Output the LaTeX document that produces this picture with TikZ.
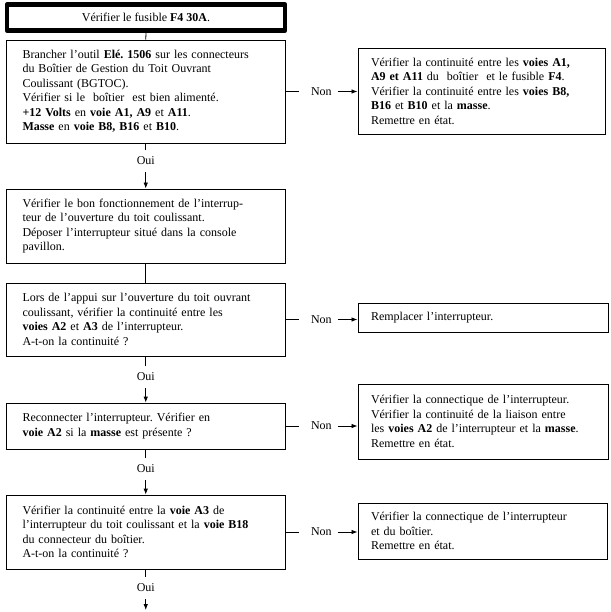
\documentclass[tikz,border=0pt]{standalone}
\usepackage{fontspec}
\setmainfont{Liberation Serif}
\usetikzlibrary{arrows.meta}
\frenchspacing
\begin{document}
\begin{tikzpicture}[x=1pt,y=-1pt,
  font=\fontsize{12}{14.5}\selectfont,
  mbox/.style={draw, line width=0.8pt, rectangle, inner xsep=16pt, inner ysep=0pt,
    minimum width=278.5pt, text width=246.5pt, align=left},
  rbox/.style={draw, line width=0.9pt, rectangle, inner xsep=13pt, inner ysep=0pt, align=left},
  lab/.style={inner sep=0pt},
  arr/.style={-{Latex[length=6pt,width=4.5pt]}, line width=0.8pt},
  conn/.style={line width=0.8pt}]
\useasboundingbox (0,0) rectangle (610,612);

% main column
\node[draw, line width=4.5pt, line join=round, minimum width=278pt, minimum height=26pt, inner sep=0pt] (t) at (146,17.5)
  {Vérifier le fusible \textbf{F4 30A}.};
\node[mbox, minimum height=103pt] (b1) at (145.75,91.5)
  {Brancher l’outil \textbf{Elé. 1506} sur les connecteurs\\
   du Boîtier de Gestion du Toit Ouvrant\\
   Coulissant (BGTOC).\\
   Vérifier si le\ \ boîtier\ \ est bien alimenté.\\
   \textbf{+12 Volts} en \textbf{voie A1, A9} et \textbf{A11}.\\
   \textbf{Masse} en \textbf{voie B8, B16} et \textbf{B10}.};
\node[mbox, minimum height=74pt] (b2) at (145.75,226)
  {Vérifier le bon fonctionnement de l’interrup-\\
   teur de l’ouverture du toit coulissant.\\
   Déposer l’interrupteur situé dans la console\\
   pavillon.};
\node[mbox, minimum height=73pt] (b3) at (145.75,319.5)
  {Lors de l’appui sur l’ouverture du toit ouvrant\\
   coulissant, vérifier la continuité entre les\\
   \textbf{voies A2} et \textbf{A3} de l’interrupteur.\\
   A-t-on la continuité ?};
\node[mbox, minimum height=46pt] (b4) at (145.75,426)
  {Reconnecter l’interrupteur. Vérifier en\\
   \textbf{voie A2} si la \textbf{masse} est présente ?};
\node[mbox, minimum height=74pt] (b5) at (145.75,532)
  {Vérifier la continuité entre la \textbf{voie A3} de\\
   l’interrupteur du toit coulissant et la \textbf{voie B18}\\
   du connecteur du boîtier.\\
   A-t-on la continuité ?};
\coordinate (end) at (145.75,610);

% right column
\node[rbox, minimum width=247pt, minimum height=86pt, text width=221pt] (r1) at (481.5,91)
  {Vérifier la continuité entre les \textbf{voies A1,}\\
   \textbf{A9 et A11} du\ \ boîtier\ \ et le fusible \textbf{F4}.\\
   Vérifier la continuité entre les \textbf{voies B8,}\\
   \textbf{B16} et \textbf{B10} et la \textbf{masse}.\\
   Remettre en état.};
\node[rbox, minimum width=250pt, minimum height=29pt, text width=224pt] (r2) at (483,317.5)
  {Remplacer l’interrupteur.};
\node[rbox, minimum width=250pt, minimum height=75pt, text width=224pt] (r3) at (483,421.5)
  {Vérifier la connectique de l’interrupteur.\\
   Vérifier la continuité de la liaison entre\\
   les \textbf{voies A2} de l’interrupteur et la \textbf{masse}.\\
   Remettre en état.};
\node[rbox, minimum width=249pt, minimum height=56pt, text width=223pt] (r4) at (482.5,531)
  {Vérifier la connectique de l’interrupteur\\
   et du boîtier.\\
   Remettre en état.};

% Oui labels
\node[lab, inner ysep=7pt] (o1) at (145.75,161) {Oui};
\node[lab, inner ysep=7pt] (o2) at (145.75,377) {Oui};
\node[lab, inner ysep=7pt] (o3) at (145.75,469) {Oui};
\node[lab, inner ysep=7pt] (o4) at (145.75,588) {Oui};

% Non labels
\path (b1.east) ++(36,0) node[lab] (n1) {Non};
\path (b3.east) ++(36,0) node[lab] (n2) {Non};
\path (b4.east) ++(36,0) node[lab] (n3) {Non};
\path (b5.east) ++(36,0) node[lab] (n4) {Non};

% vertical connectors
\draw[conn] (t.south) -- (b1.north);
\draw[conn] (b1.south) -- (o1.north);
\draw[arr] (o1.south) -- (b2.north);
\draw[conn] (b2.south) -- (b3.north);
\draw[conn] (b3.south) -- (o2.north);
\draw[arr] (o2.south) -- (b4.north);
\draw[conn] (b4.south) -- (o3.north);
\draw[arr] (o3.south) -- (b5.north);
\draw[conn] (b5.south) -- (o4.north);
\draw[arr] (o4.south) -- (end);

% horizontal connectors
\foreach \b/\n/\r in {b1/n1/r1, b3/n2/r2, b4/n3/r3, b5/n4/r4}{
  \draw[conn] (\b.east) -- ([xshift=-12pt]\n.west);
  \draw[arr] ([xshift=6pt]\n.east) -- (\r.west |- \n);
}
\end{tikzpicture}
\end{document}
